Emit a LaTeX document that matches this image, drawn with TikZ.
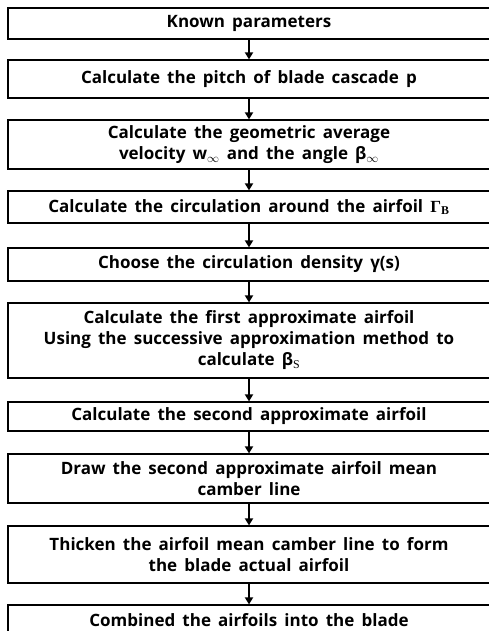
\documentclass[tikz,border=0pt]{standalone}
\usepackage{fontspec}
\setmainfont{Open Sans}
\newfontfamily\greekserif{Liberation Serif}
\newcommand\stagefont{\fontsize{17}{21}\selectfont\bfseries\spaceskip=0.42em\relax}
\usetikzlibrary{arrows.meta}
\begin{document}
\begin{tikzpicture}[x=1pt,y=-1pt,>={Triangle[width=8pt,length=7pt]}]
  \tikzstyle{stage}=[draw,line width=1.2pt,minimum width=482pt,inner sep=0pt,align=center,font=\stagefont]
  \tikzstyle{flow}=[->,line width=2pt]
  \useasboundingbox (0,0) rectangle (488,631);
  \node[stage,minimum height=31pt] (S_1) at (249,23.5) {Known parameters};
  \node[stage,minimum height=38pt] (S_2) at (249,79) {Calculate the pitch of blade cascade p};
  \node[stage,minimum height=49pt] (S_3) at (249,144.5) {Calculate the geometric average\\velocity w$_\infty$ and the angle β$_\infty$};
  \node[stage,minimum height=32pt] (S_4) at (249,207) {Calculate the circulation around the airfoil {\greekserif Γ\textsubscript{B}}};
  \node[stage,minimum height=33pt] (S_5) at (249,264.5) {Choose the circulation density γ(s)};
  \node[stage,minimum height=75pt] (S_6) at (249,340.5) {Calculate the first approximate airfoil\\Using the successive approximation method to\\calculate β{\greekserif\mdseries\textsubscript{S}}};
  \node[stage,minimum height=29pt] (S_7) at (249,416.5) {Calculate the second approximate airfoil};
  \node[stage,minimum height=49pt] (S_8) at (249,478.5) {Draw the second approximate airfoil mean\\camber line};
  \node[stage,minimum height=57pt] (S_9) at (249,554.5) {Thicken the airfoil mean camber line to form\\the blade actual airfoil};
  \node[stage,minimum height=30pt] (S_10) at (249,620) {Combined the airfoils into the blade};
  \draw[flow] (S_1) -- (S_2);
  \draw[flow] (S_2) -- (S_3);
  \draw[flow] (S_3) -- (S_4);
  \draw[flow] (S_4) -- (S_5);
  \draw[flow] (S_5) -- (S_6);
  \draw[flow] (S_6) -- (S_7);
  \draw[flow] (S_7) -- (S_8);
  \draw[flow] (S_8) -- (S_9);
  \draw[flow] (S_9) -- (S_10);
\end{tikzpicture}
\end{document}
